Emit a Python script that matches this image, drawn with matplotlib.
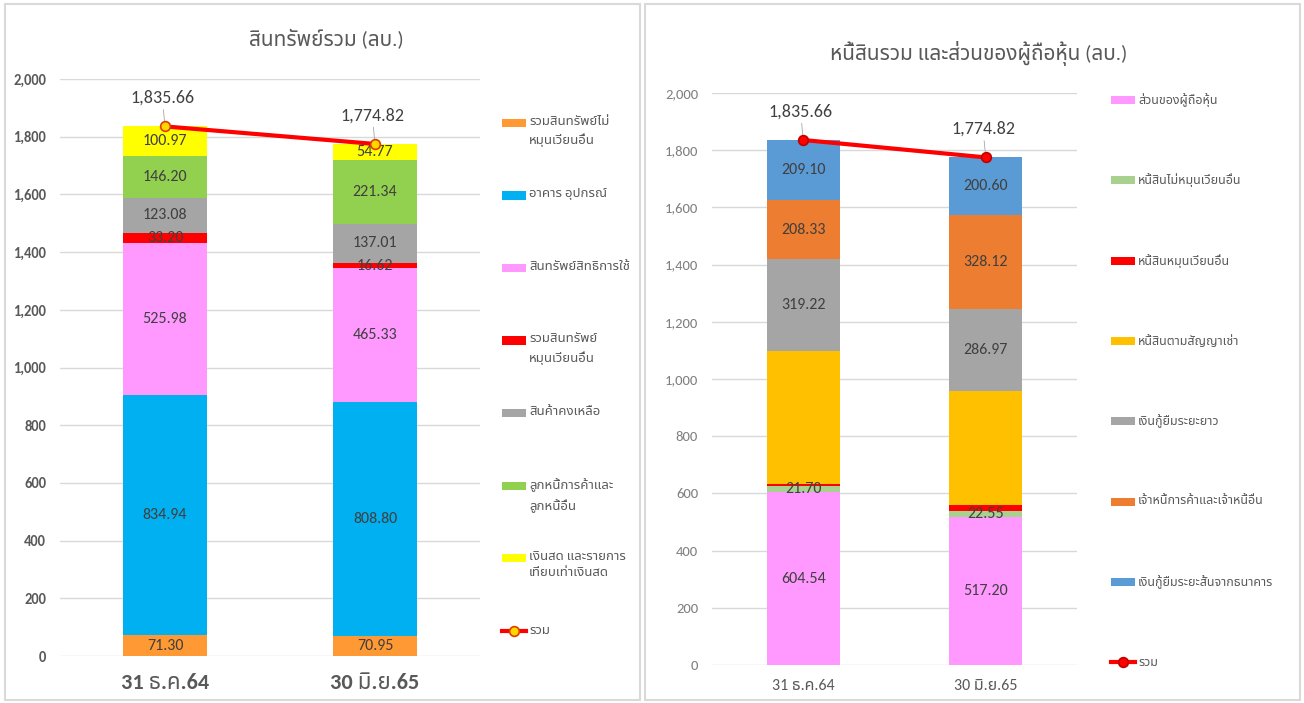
import numpy as np
import matplotlib
matplotlib.use("Agg")
import matplotlib.pyplot as plt
from matplotlib import font_manager as fm
from matplotlib.patches import Rectangle
from matplotlib.lines import Line2D

# ---- fonts: condensed latin if there, Thai from Noto Sans Thai
names = {f.name for f in fm.fontManager.ttflist}
fams = [f for f in ['Carlito', 'Noto Sans Thai', 'DejaVu Sans'] if f in names]
plt.rcParams['font.family'] = fams

# ---- data
dates = ['31 ธ.ค.64', '30 มิ.ย.65']

asset_names = ['รวมสินทรัพย์ไม่\nหมุนเวียนอื่น', 'อาคาร อุปกรณ์', 'สินทรัพย์สิทธิการใช้',
               'รวมสินทรัพย์\nหมุนเวียนอื่น', 'สินค้าคงเหลือ', 'ลูกหนี้การค้าและ\nลูกหนี้อื่น',
               'เงินสด และรายการ\nเทียบเท่าเงินสด']
noncurrent_other = [71.30, 70.95]
ppe = [834.94, 808.80]
rou = [525.98, 465.33]
current_other = [33.20, 16.62]
inventory = [123.08, 137.01]
receivables = [146.20, 221.34]
cash = [100.97, 54.77]
asset_total = [1835.66, 1774.82]
asset_colors = ['#FF9933', '#00B0F0', '#FF99FF', '#FF0000', '#A5A5A5', '#92D050', '#FFFF00']

liab_names = ['ส่วนของผู้ถือหุ้น', 'หนี้สินไม่หมุนเวียนอื่น', 'หนี้สินหมุนเวียนอื่น',
              'หนี้สินตามสัญญาเช่า', 'เงินกู้ยืมระยะยาว', 'เจ้าหนี้การค้าและเจ้าหนี้อื่น',
              'เงินกู้ยืมระยะสั้นจากธนาคาร']
equity = [604.54, 517.20]
noncurrent_liab = [21.70, 22.55]
current_liab = [8.0, 18.0]
lease_liab = [464.77, 401.38]
long_loan = [319.22, 286.97]
payables = [208.33, 328.12]
short_loan = [209.10, 200.60]
liab_total = [1835.66, 1774.82]
liab_colors = ['#FF99FF', '#A9D18E', '#FF0000', '#FFC000', '#A5A5A5', '#ED7D31', '#5B9BD5']
liab_show_label = [True, True, False, False, True, True, True]

W, H = 1304, 703
fig = plt.figure(figsize=(W / 100, H / 100), dpi=100)


def fx(x):
    return x / W


def fy(y):
    return 1 - y / H


TXT = '#595959'

# panel frames
for x0, x1 in [(5, 640), (645, 1300)]:
    fig.add_artist(Rectangle((fx(x0), fy(700)), fx(x1 - x0), (700 - 4) / H,
                             transform=fig.transFigure, fill=False,
                             edgecolor='#D9D9D9', lw=1.5))


def stacked(ax, series, colors, totals, show, mcolor, medge):
    x = np.arange(len(dates))
    bottom = np.zeros(len(dates))
    for i, vals in enumerate(series):
        bc = ax.bar(x, vals, 0.4, bottom=bottom, color=colors[i], edgecolor='none', zorder=2)
        if show[i]:
            ax.bar_label(bc, labels=[f'{v:,.2f}' for v in vals], label_type='center',
                         color='#404040', fontsize=11.5, zorder=4)
        bottom += np.array(vals)
    ax.plot(x, totals, color='#FF0000', lw=3, marker='o', ms=7, mfc=mcolor, mec=medge,
            mew=1.2, zorder=5)
    for xi, t in zip(x, totals):
        ax.annotate(f'{t:,.2f}', xy=(xi, t), xytext=(-2, 15), textcoords='offset points',
                    ha='center', va='bottom', fontsize=13, color='#404040',
                    arrowprops=dict(arrowstyle='-', color='#A6A6A6', lw=0.6,
                                    shrinkA=1, shrinkB=3))
    ax.set_xlim(-0.5, 1.5)
    ax.set_ylim(0, 2000)
    ax.set_yticks(np.arange(0, 2001, 200))
    ax.yaxis.set_major_formatter(matplotlib.ticker.FuncFormatter(lambda v, p: f'{v:,.0f}'))
    ax.set_xticks(x)
    ax.set_xticklabels(dates)
    ax.grid(axis='y', color='#D9D9D9', lw=1, zorder=0)
    ax.set_axisbelow(True)
    for s in ax.spines.values():
        s.set_visible(False)
    ax.tick_params(length=0)


def legend(names_, colors, x0, y0, step, fs, mcolor, medge):
    for i, (nm, c) in enumerate(zip(names_, colors)):
        y = y0 + step * i
        fig.add_artist(Rectangle((fx(x0), fy(y + 4)), fx(24), 8 / H, transform=fig.transFigure,
                                 color=c, lw=0))
        fig.text(fx(x0 + 27), fy(y - 7), nm, ha='left', va='top', fontsize=fs, color=TXT,
                 linespacing=1.6)
    y = y0 + step * len(names_)
    fig.add_artist(Line2D([fx(x0), fx(x0 + 24)], [fy(y), fy(y)], transform=fig.transFigure,
                          color='#FF0000', lw=3))
    fig.add_artist(Line2D([fx(x0 + 12)], [fy(y)], transform=fig.transFigure, marker='o',
                          ms=7, mfc=mcolor, mec=medge, mew=1.2, lw=0))
    fig.text(fx(x0 + 27), fy(y), 'รวม', ha='left', va='center', fontsize=fs, color=TXT)


# ---- left: assets
ax1 = fig.add_axes([fx(60), fy(656), fx(420), (656 - 79) / H])
stacked(ax1, [noncurrent_other, ppe, rou, current_other, inventory, receivables, cash],
        asset_colors, asset_total, [True] * 7, '#FFD700', '#E03C00')
ax1.tick_params(axis='y', labelsize=10.5, labelcolor=TXT, pad=10)
for t in ax1.get_yticklabels():
    t.set_fontweight('bold')
ax1.tick_params(axis='x', labelsize=16, labelcolor=TXT, pad=12)
for t in ax1.get_xticklabels():
    t.set_fontweight('bold')
fig.text(fx(326), fy(39), 'สินทรัพย์รวม (ลบ.)', ha='center', va='center', fontsize=15, color=TXT)
legend(asset_names, asset_colors, 502, 123, 72.5, 9.5, '#FFD700', '#E03C00')

# ---- right: liabilities and equity
ax2 = fig.add_axes([fx(712), fy(665), fx(365), (665 - 93) / H])
stacked(ax2, [equity, noncurrent_liab, current_liab, lease_liab, long_loan, payables, short_loan],
        liab_colors, liab_total, liab_show_label, '#FF0000', '#C00000')
ax2.tick_params(axis='y', labelsize=10.5, labelcolor='#7F7F7F', pad=10)
ax2.tick_params(axis='x', labelsize=11.5, labelcolor=TXT, pad=10)
fig.text(fx(979), fy(53), 'หนี้สินรวม และส่วนของผู้ถือหุ้น (ลบ.)', ha='center', va='center',
         fontsize=15, color=TXT)
legend(liab_names, liab_colors, 1111, 100, 80.3, 9, '#FF0000', '#C00000')

fig.savefig('out.png', dpi=100)
